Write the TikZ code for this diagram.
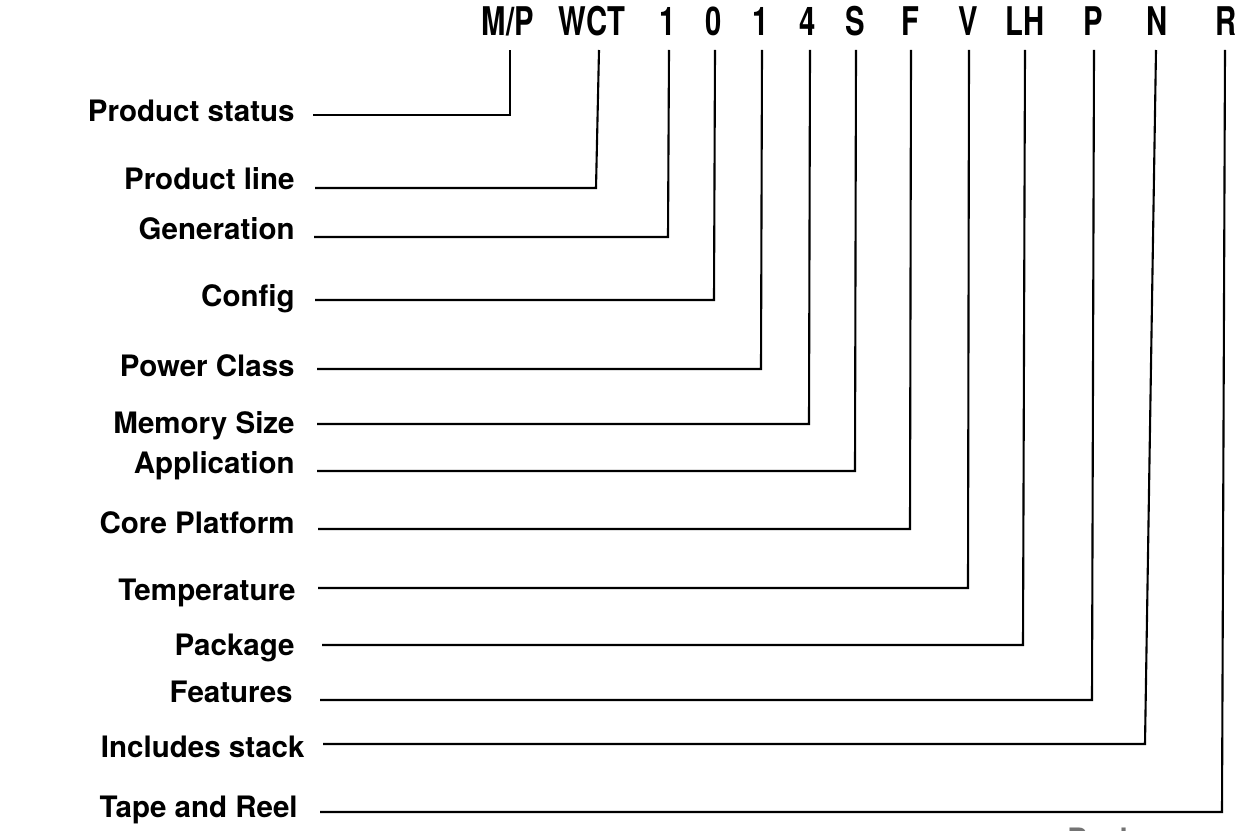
\documentclass[tikz,border=0pt]{standalone}
\usepackage{fontspec}
\setmainfont{TeX Gyre Heros}
\newfontfamily\codefont[FakeStretch=0.74]{TeX Gyre Heros}
\tikzset{
  code/.style={font=\codefont\bfseries\fontsize{22.5}{26}\selectfont, anchor=base, inner sep=0pt},
  field/.style={font=\bfseries\fontsize{16.8}{20}\selectfont, anchor=base east, inner sep=0pt},
  lead/.style={line width=1.2pt},
}
\begin{document}
\begin{tikzpicture}[x=0.02cm,y=-0.02cm]
  \useasboundingbox (0,0) rectangle (1238,831);
  % part number
  \node [code] (mp) at (508,36) {M/P};
  \node [code] (wct) at (592,36) {WCT};
  \node [code] (gen1) at (668,36) {1};
  \node [code] (cfg0) at (714,36) {0};
  \node [code] (pwr1) at (761,36) {1};
  \node [code] (mem4) at (808,36) {4};
  \node [code] (appS) at (855,36) {S};
  \node [code] (coreF) at (910,36) {F};
  \node [code] (tempV) at (968,36) {V};
  \node [code] (packLH) at (1025,36) {LH};
  \node [code] (featP) at (1093,36) {P};
  \node [code] (stackN) at (1157,36) {N};
  \node [code] (reelR) at (1226,36) {R};
  % field names
  \node [field] (status) at (295,122) {Product status};
  \node [field] (pline) at (295,190) {Product line};
  \node [field] (gen) at (295,240) {Generation};
  \node [field] (config) at (295,307) {Config};
  \node [field] (power) at (295,377) {Power Class};
  \node [field] (memory) at (295,433) {Memory Size};
  \node [field] (appl) at (295,473) {Application};
  \node [field] (core) at (295,533) {Core Platform};
  \node [field] (temp) at (296,600) {Temperature};
  \node [field] (pack) at (295,655) {Package};
  \node [field] (feat) at (293,702) {Features};
  \node [field] (stack) at (305,757) {Includes stack};
  \node [field] (reel) at (298,817) {Tape and Reel};
  \node [field, anchor=base west, text=black!55] (cut) at (1067,849) {Package};
  % corners and line tops
  \coordinate (statusB) at (510,115);  \coordinate (statusT) at (510,50);
  \coordinate (plineB) at (596,188);   \coordinate (plineT) at (599,50);
  \coordinate (genB) at (668,237);     \coordinate (genT) at (669,50);
  \coordinate (configB) at (714,300);  \coordinate (configT) at (715,50);
  \coordinate (powerB) at (761,369);   \coordinate (powerT) at (762,50);
  \coordinate (memoryB) at (809,424);  \coordinate (memoryT) at (810,50);
  \coordinate (applB) at (855,471);    \coordinate (applT) at (856,50);
  \coordinate (coreB) at (910,529);    \coordinate (coreT) at (911,50);
  \coordinate (tempB) at (968,588);    \coordinate (tempT) at (969,50);
  \coordinate (packB) at (1023,645);   \coordinate (packT) at (1025,50);
  \coordinate (featB) at (1092,700);   \coordinate (featT) at (1094,50);
  \coordinate (stackB) at (1145,744);  \coordinate (stackT) at (1156,50);
  \coordinate (reelB) at (1222,812);   \coordinate (reelT) at (1225,50);
  % leader lines
  \draw [lead] (status.base east) ++(18,-7) -- (statusB) -- (statusT);
  \draw [lead] (pline.base east) ++(20,-2) -- (plineB) -- (plineT);
  \draw [lead] (gen.base east) ++(19,-3) -- (genB) -- (genT);
  \draw [lead] (config.base east) ++(20,-7) -- (configB) -- (configT);
  \draw [lead] (power.base east) ++(22,-8) -- (powerB) -- (powerT);
  \draw [lead] (memory.base east) ++(22,-9) -- (memoryB) -- (memoryT);
  \draw [lead] (appl.base east) ++(22,-2) -- (applB) -- (applT);
  \draw [lead] (core.base east) ++(23,-4) -- (coreB) -- (coreT);
  \draw [lead] (temp.base east) ++(22,-12) -- (tempB) -- (tempT);
  \draw [lead] (pack.base east) ++(27,-10) -- (packB) -- (packT);
  \draw [lead] (feat.base east) ++(27,-2) -- (featB) -- (featT);
  \draw [lead] (stack.base east) ++(18,-13) -- (stackB) -- (stackT);
  \draw [lead] (reel.base east) ++(22,-5) -- (reelB) -- (reelT);
\end{tikzpicture}
\end{document}
